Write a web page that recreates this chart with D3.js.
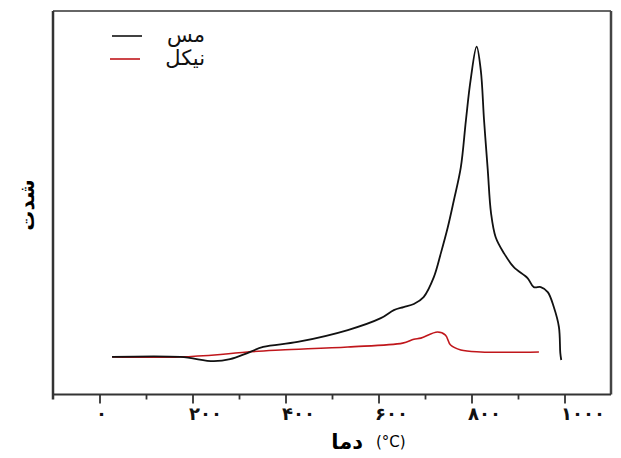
<!DOCTYPE html>
<html>
<head>
<meta charset="utf-8">
<script src="https://cdn.jsdelivr.net/npm/d3@7"></script>
<style>
  body { margin: 0; background: #ffffff; }
  svg { display: block; }
  text { font-family: "DejaVu Sans", sans-serif; }
</style>
</head>
<body>
<script>
// XRD-like curves: temperature vs intensity

// Data

var seriesNames = ["مس", "نیکل"];
var seriesColors = ["#111111", "#c0161b"];

var copperTemp = [27, 174, 245, 281, 318, 352, 426, 534, 605, 633, 654, 676, 697, 719, 734, 749, 762, 777, 788, 798, 811, 820, 827, 835, 842, 852, 870, 891, 921, 934, 949, 964, 977, 988, 991, 993];
var copperVal  = [9.8, 9.8, 8.7, 9.2, 10.8, 12.4, 13.7, 16.8, 19.9, 22.0, 22.8, 23.6, 25.4, 30.6, 36.8, 43.6, 50.6, 59.2, 71.5, 81.9, 90.7, 84.5, 71.5, 58.5, 47.3, 41.0, 36.8, 33.2, 30.3, 28.0, 28.0, 26.7, 22.8, 17.6, 10.8, 9.0];

var nickelTemp = [27, 174, 266, 318, 389, 534, 652, 676, 691, 727, 744, 755, 777, 820, 945];
var nickelVal  = [9.8, 9.8, 10.5, 11.1, 11.6, 12.4, 13.4, 14.4, 14.7, 16.3, 15.5, 12.9, 11.6, 11.1, 11.1];

var majorTicks = [0, 200, 400, 600, 800, 1000];
var minorTicks = [100, 300, 500, 700, 900];
var tickLabels = ["۰", "۲۰۰", "۴۰۰", "۶۰۰", "۸۰۰", "۱۰۰۰"];

var xTitle = "دما";
var xUnit = "(°C)";
var yTitle = "شدت";

// Chart variables

var width = 621;
var height = 458;
var plot = {left: 53, right: 611, top: 11, bottom: 394.5};

var svg = d3.select("body")
            .append("svg")
            .attr("width", width)
            .attr("height", height);

// Scales

var x = d3.scaleLinear()
          .domain([-100, 1100])
          .range([plot.left, plot.right]);

var y = d3.scaleLinear()
          .domain([0, 100])
          .range([plot.bottom, plot.top]);

// Frame (top + right thin / left thick)

svg.append("line")
   .attr("x1", plot.left).attr("x2", plot.right)
   .attr("y1", plot.top).attr("y2", plot.top)
   .attr("stroke", "#333").attr("stroke-width", 1.5);

svg.append("line")
   .attr("x1", plot.right).attr("x2", plot.right)
   .attr("y1", plot.top).attr("y2", plot.bottom)
   .attr("stroke", "#444").attr("stroke-width", 2.5);

svg.append("line")
   .attr("x1", plot.left).attr("x2", plot.left)
   .attr("y1", plot.top).attr("y2", plot.bottom + 5)
   .attr("stroke", "#333").attr("stroke-width", 2.5);

// Bottom axis

var axisG = svg.append("g")
               .attr("transform", "translate(0," + plot.bottom + ")");

axisG.call(d3.axisBottom(x).tickValues(minorTicks).tickSize(5).tickFormat(""))
     .call(function(g) { g.select(".domain").remove(); });

var majorG = svg.append("g")
                .attr("transform", "translate(0," + plot.bottom + ")")
                .call(d3.axisBottom(x)
                        .tickValues(majorTicks)
                        .tickSize(9)
                        .tickFormat(function(d, i) { return tickLabels[i]; }));

majorG.select(".domain").remove();
svg.selectAll(".tick line").attr("stroke", "#333").attr("stroke-width", 1.8);

majorG.selectAll(".tick text")
      .attr("text-anchor", "start")
      .attr("x", -4)
      .attr("y", 13)
      .style("font-size", "18px")
      .style("font-weight", "bold")
      .style("letter-spacing", "11px")
      .attr("fill", "#111");

svg.append("line")
   .attr("x1", plot.left).attr("x2", plot.right)
   .attr("y1", plot.bottom).attr("y2", plot.bottom)
   .attr("stroke", "#333").attr("stroke-width", 2);

// Axis titles

svg.append("text")
   .attr("x", 363).attr("y", 449)
   .attr("text-anchor", "end")
   .style("font-size", "21px")
   .style("font-weight", "bold")
   .text(xTitle);

svg.append("text")
   .attr("x", 376).attr("y", 447)
   .style("font-size", "15px")
   .text(xUnit);

svg.append("text")
   .attr("transform", "translate(34,205) rotate(-90)")
   .attr("text-anchor", "middle")
   .style("font-size", "20px")
   .style("font-weight", "bold")
   .text(yTitle);

// Lines

var line = d3.line()
             .x(function(d) { return x(d[0]); })
             .y(function(d) { return y(d[1]); })
             .curve(d3.curveCatmullRom.alpha(0.5));

var nickelData = d3.zip(nickelTemp, nickelVal);
var copperData = d3.zip(copperTemp, copperVal);

svg.append("path")
   .datum(nickelData)
   .attr("d", line)
   .attr("fill", "none")
   .attr("stroke", seriesColors[1])
   .attr("stroke-width", 1.6);

svg.append("path")
   .datum(copperData)
   .attr("d", line)
   .attr("fill", "none")
   .attr("stroke", seriesColors[0])
   .attr("stroke-width", 1.8);

// Legend

var legend = svg.append("g");

legend.selectAll("line")
      .data(seriesNames)
      .enter()
      .append("line")
      .attr("x1", function(d, i) { return 112 - i * 2; })
      .attr("x2", function(d, i) { return 142 - i * 2; })
      .attr("y1", function(d, i) { return 36 + i * 23; })
      .attr("y2", function(d, i) { return 36 + i * 23; })
      .attr("stroke", function(d, i) { return seriesColors[i]; })
      .attr("stroke-width", 1.6);

legend.selectAll("text")
      .data(seriesNames)
      .enter()
      .append("text")
      .attr("x", 205)
      .attr("y", function(d, i) { return 42 + i * 23; })
      .attr("text-anchor", "end")
      .style("font-size", "21px")
      .attr("fill", "#111")
      .text(function(d) { return d; });
</script>
</body>
</html>
